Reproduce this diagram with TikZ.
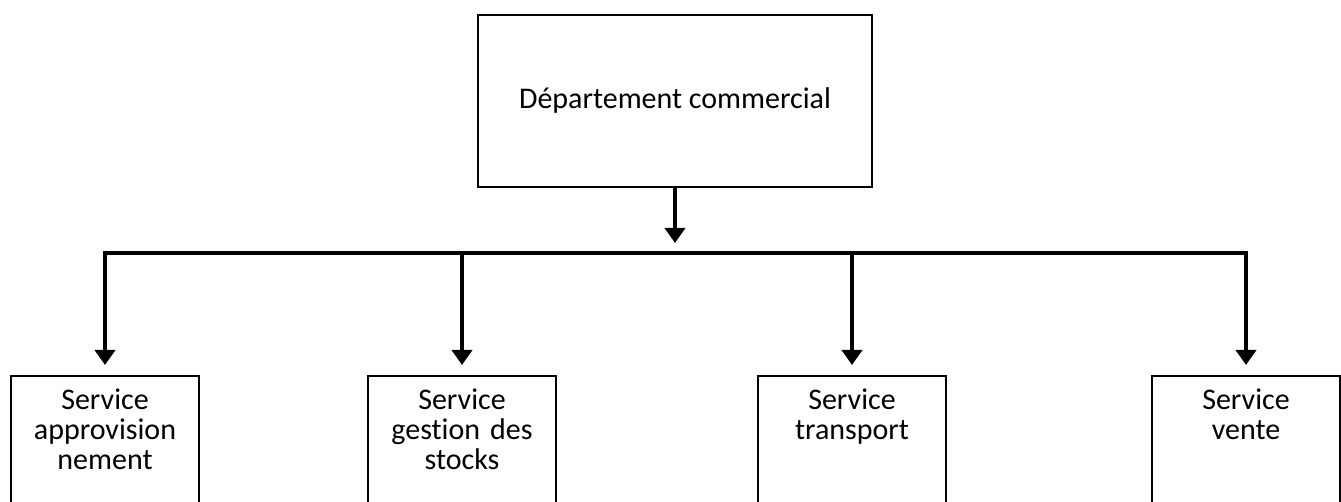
\documentclass[tikz,border=0pt]{standalone}
\usepackage{fontspec}
\setmainfont{Carlito}[Ligatures={NoCommon,NoRequired,NoContextual}]
\usetikzlibrary{positioning,arrows.meta}

\begin{document}
\begin{tikzpicture}[
  x=0.5pt,y=-0.5pt,
  >={Triangle[width=10pt,length=7.5pt]},
  every node/.style={font=\fontsize{15}{15}\selectfont},
  dept/.style={draw,line width=1pt,minimum width=197pt,minimum height=86pt},
  service/.style={draw,line width=1pt,anchor=north,minimum width=94pt,text width=94pt,
    align=center,inner xsep=0pt,inner ysep=0pt,text height=17pt,text depth=60pt},
  link/.style={line width=2pt}
]
  \clip (0,0) rectangle (1341,502);
  \node[dept] (dept) at (675,101) {Département commercial};
  \coordinate (bus) at (675,253);
  \node[service] (appro) at (105,375) {Service\\approvision\\nement};
  \node[service] (stocks) at (462,375) {Service\\gestion des\\stocks};
  \node[service] (transport) at (852,375) {Service\\transport};
  \node[service] (vente) at (1246,375) {Service\\vente};
  \draw[link,->,shorten >=5pt] (dept) -- (bus);
  \draw[link,line cap=rect] (appro.north |- bus) -- (vente.north |- bus);
  \foreach \s in {appro,stocks,transport,vente}
    \draw[link,->,shorten >=5pt] (\s.north |- bus) -- (\s.north);
\end{tikzpicture}
\end{document}
